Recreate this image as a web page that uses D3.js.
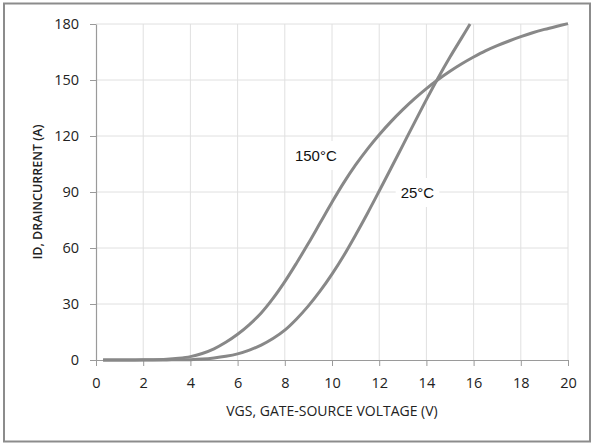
<!DOCTYPE html>
<html>
<head>
<meta charset="utf-8">
<script src="https://cdn.jsdelivr.net/npm/d3@7/dist/d3.min.js"></script>
<style>
  html, body { margin: 0; padding: 0; background: #fff; }
  svg { display: block; }
</style>
</head>
<body>
<svg id="chart" width="592" height="445"></svg>
<script>
// Transfer characteristics: drain current vs gate-source voltage
const xTicks = [0, 2, 4, 6, 8, 10, 12, 14, 16, 18, 20];
const yTicks = [0, 30, 60, 90, 120, 150, 180];

const vgs150 = [0.3, 1, 2, 3, 3.5, 4, 4.5, 5, 5.5, 6, 6.5, 7, 7.5, 8, 8.5, 9, 9.5, 10, 10.5, 11, 11.5, 12, 12.5, 13, 13.5, 14, 14.5, 15, 15.5, 16, 16.5, 17, 17.5, 18, 18.5, 19, 19.5, 20];
const id150  = [0, 0, 0.1, 0.4, 0.9, 1.8, 3.5, 6, 9.5, 13.8, 19, 25.2, 33, 42, 52, 62.5, 73.5, 84.5, 95, 104.5, 113, 120.7, 127.7, 134.1, 140, 145.4, 150.3, 154.7, 158.7, 162.3, 165.6, 168.4, 170.9, 173.2, 175.3, 177.1, 178.7, 180.2];

const vgs25 = [0.3, 2, 3, 4, 4.5, 5, 5.5, 6, 6.5, 7, 7.5, 8, 8.5, 9, 9.5, 10, 10.5, 11, 11.5, 12, 12.5, 13, 13.5, 14, 14.5, 15, 15.5, 15.85];
const id25  = [0, 0, 0.05, 0.2, 0.5, 1.1, 2, 3.3, 5.3, 8, 11.5, 16, 22, 29, 37, 46, 56, 67, 78.5, 90.5, 102.7, 115, 127.3, 139.5, 151.2, 162.3, 172.7, 180];

const seriesLabels = [
  { text: "150°C", vgs: 8.43, id: 106.6 },
  { text: "25°C",  vgs: 12.91, id: 86.8 }
];

const svg = d3.select("#chart");
const margin = { left: 96, right: 24, top: 24, bottom: 85 };
const W = 592, H = 445;

const x = d3.scaleLinear().domain([0, 20]).range([margin.left, W - margin.right]);
const y = d3.scaleLinear().domain([0, 180]).range([H - margin.bottom, margin.top]);

const lineColor = "#888888";
const gridColor = "#e0e0e0";
const axisColor = "#9a9a9a";
const tickFont = "'Open Sans', sans-serif";

// outer frame
svg.append("rect")
  .attr("x", 4).attr("y", 3.5)
  .attr("width", 586).attr("height", 438)
  .attr("fill", "none")
  .attr("stroke", "#8c8c8c")
  .attr("stroke-width", 2);

// gridlines
const grid = svg.append("g");
grid.selectAll("line.v").data(xTicks.filter(d => d > 0)).join("line")
  .attr("x1", d => x(d)).attr("x2", d => x(d))
  .attr("y1", y(180)).attr("y2", y(0))
  .attr("stroke", gridColor).attr("stroke-width", 1);
grid.selectAll("line.h").data(yTicks.filter(d => d > 0)).join("line")
  .attr("x1", x(0)).attr("x2", x(20))
  .attr("y1", d => y(d)).attr("y2", d => y(d))
  .attr("stroke", gridColor).attr("stroke-width", 1);

// axes
const xAxis = svg.append("g")
  .attr("transform", `translate(0,${y(0)})`)
  .call(d3.axisBottom(x).tickValues(xTicks).tickSize(6).tickPadding(12).tickSizeOuter(0));
const yAxis = svg.append("g")
  .attr("transform", `translate(${x(0)},0)`)
  .call(d3.axisLeft(y).tickValues(yTicks).tickSize(6).tickPadding(11).tickSizeOuter(0));

[xAxis, yAxis].forEach(g => {
  g.select(".domain").attr("stroke", axisColor).attr("stroke-width", 1.2);
  g.selectAll(".tick line").attr("stroke", axisColor);
  g.selectAll(".tick text")
    .attr("font-family", tickFont)
    .attr("font-size", 14.5)
    .attr("fill", "#222");
});

// axis titles
svg.append("text")
  .attr("x", (x(0) + x(20)) / 2)
  .attr("y", 416)
  .attr("text-anchor", "middle")
  .attr("font-family", tickFont)
  .attr("font-size", 14)
  .attr("fill", "#222")
  .text("VGS, GATE-SOURCE VOLTAGE (V)");

svg.append("text")
  .attr("transform", `translate(42,${(y(0) + y(180)) / 2}) rotate(-90)`)
  .attr("text-anchor", "middle")
  .attr("font-family", tickFont)
  .attr("font-size", 12.5)
  .attr("font-weight", 600)
  .attr("fill", "#222")
  .text("ID, DRAINCURRENT (A)");

// curve labels with white backing
const labelG = svg.append("g");
seriesLabels.forEach(l => {
  const t = labelG.append("text")
    .attr("x", x(l.vgs))
    .attr("y", y(l.id))
    .attr("font-family", "'Liberation Sans', Arial, sans-serif")
    .attr("font-size", 15)
    .attr("fill", "#111")
    .text(l.text);
  const b = t.node().getBBox();
  labelG.insert("rect", "text")
    .attr("x", b.x - 5).attr("y", b.y - 6)
    .attr("width", b.width + 10).attr("height", b.height + 12)
    .attr("fill", "#fff");
});

// curves
const line = d3.line()
  .x(d => x(d[0]))
  .y(d => y(d[1]))
  .curve(d3.curveCatmullRom.alpha(0.5));

const curves = [
  d3.zip(vgs150, id150),
  d3.zip(vgs25, id25)
];

svg.append("g").selectAll("path").data(curves).join("path")
  .attr("d", line)
  .attr("fill", "none")
  .attr("stroke", lineColor)
  .attr("stroke-width", 3);
</script>
</body>
</html>
